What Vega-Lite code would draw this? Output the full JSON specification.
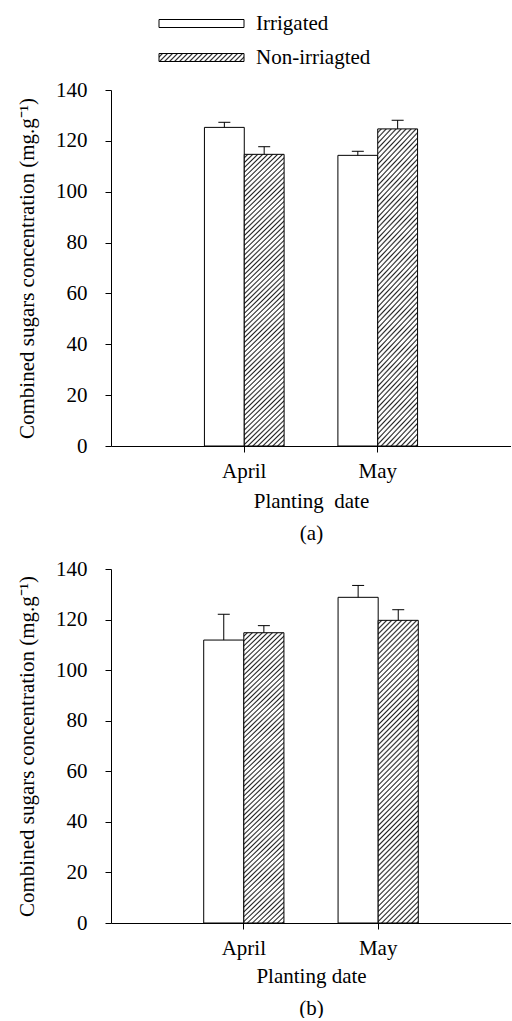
{
  "$schema": "https://vega.github.io/schema/vega-lite/v6.json",
  "padding": {"left": 16, "top": 13, "right": 0, "bottom": 0},
  "background": "white",
  "config": {
    "view": {"stroke": null},
    "font": "Liberation Serif",
    "axis": {"domainColor": "black", "tickColor": "black", "labelColor": "black", "titleColor": "black", "labelFont": "Liberation Serif", "titleFont": "Liberation Serif", "labelFontSize": 21, "titleFontSize": 21, "titleFontWeight": "normal", "grid": false, "tickSize": 6, "domainWidth": 1, "tickWidth": 1},
    "axisX": {"labelPadding": 8, "titlePadding": 9, "titleLineHeight": 32, "labelAngle": 0},
    "axisY": {"labelPadding": 18, "titlePadding": 18},
    "legend": {"labelFont": "Liberation Serif", "labelFontSize": 21, "labelColor": "black"}
  },
  "datasets": {
    "a": [
      {"date": "April", "treatment": "Irrigated", "mean": 125.3, "upper": 127.3},
      {"date": "April", "treatment": "Non-irriagted", "mean": 114.7, "upper": 117.7},
      {"date": "May", "treatment": "Irrigated", "mean": 114.3, "upper": 115.9},
      {"date": "May", "treatment": "Non-irriagted", "mean": 124.7, "upper": 128.1}
    ],
    "b": [
      {"date": "April", "treatment": "Irrigated", "mean": 111.9, "upper": 122.1},
      {"date": "April", "treatment": "Non-irriagted", "mean": 114.8, "upper": 117.6},
      {"date": "May", "treatment": "Irrigated", "mean": 128.8, "upper": 133.5},
      {"date": "May", "treatment": "Non-irriagted", "mean": 119.7, "upper": 123.9}
    ]
  },
  "spacing": 15,
  "resolve": {"scale": {"fill": "independent", "xOffset": "independent"}, "legend": {"fill": "independent"}},
  "vconcat": [
    {
      "width": 400,
      "height": 356,
      "data": {"name": "a"},
      "encoding": {
        "x": {"field": "date", "type": "nominal", "sort": ["April", "May"], "scale": {"paddingInner": 0.403, "paddingOuter": 0.7}, "title": ["Planting\u00a0 date", "(a)"]},
        "xOffset": {"field": "treatment", "type": "nominal", "sort": ["Irrigated", "Non-irriagted"], "scale": {"paddingInner": 0, "paddingOuter": 0}}
      },
      "layer": [
        {
          "mark": {"type": "bar", "stroke": "black", "strokeWidth": 1},
          "encoding": {
            "y": {"field": "mean", "type": "quantitative", "scale": {"domain": [0, 140], "nice": false}, "axis": {"values": [0, 20, 40, 60, 80, 100, 120, 140]}, "title": "Combined sugars concentration (mg.g\u207b\u00b9)"},
            "fill": {
              "field": "treatment", "type": "nominal",
              "scale": {"domain": ["Irrigated", "Non-irriagted"], "range": ["white", {"expr": "{gradient:'linear',x1:0,y1:0,x2:1.1665,y2:0.1098,stops:[{offset:0,color:'#fff'},{offset:0.02,color:'#fff'},{offset:0.036,color:'#222'},{offset:0.05,color:'#fff'},{offset:0.07,color:'#fff'},{offset:0.086,color:'#222'},{offset:0.1,color:'#fff'},{offset:0.12,color:'#fff'},{offset:0.136,color:'#222'},{offset:0.15,color:'#fff'},{offset:0.17,color:'#fff'},{offset:0.186,color:'#222'},{offset:0.2,color:'#fff'},{offset:0.22,color:'#fff'},{offset:0.236,color:'#222'},{offset:0.25,color:'#fff'},{offset:0.27,color:'#fff'},{offset:0.286,color:'#222'},{offset:0.3,color:'#fff'},{offset:0.32,color:'#fff'},{offset:0.336,color:'#222'},{offset:0.35,color:'#fff'},{offset:0.37,color:'#fff'},{offset:0.386,color:'#222'},{offset:0.4,color:'#fff'},{offset:0.42,color:'#fff'},{offset:0.436,color:'#222'},{offset:0.45,color:'#fff'},{offset:0.47,color:'#fff'},{offset:0.486,color:'#222'},{offset:0.5,color:'#fff'},{offset:0.52,color:'#fff'},{offset:0.536,color:'#222'},{offset:0.55,color:'#fff'},{offset:0.57,color:'#fff'},{offset:0.586,color:'#222'},{offset:0.6,color:'#fff'},{offset:0.62,color:'#fff'},{offset:0.636,color:'#222'},{offset:0.65,color:'#fff'},{offset:0.67,color:'#fff'},{offset:0.686,color:'#222'},{offset:0.7,color:'#fff'},{offset:0.72,color:'#fff'},{offset:0.736,color:'#222'},{offset:0.75,color:'#fff'},{offset:0.77,color:'#fff'},{offset:0.786,color:'#222'},{offset:0.8,color:'#fff'},{offset:0.82,color:'#fff'},{offset:0.836,color:'#222'},{offset:0.85,color:'#fff'},{offset:0.87,color:'#fff'},{offset:0.886,color:'#222'},{offset:0.9,color:'#fff'},{offset:0.92,color:'#fff'},{offset:0.936,color:'#222'},{offset:0.95,color:'#fff'},{offset:0.97,color:'#fff'},{offset:0.986,color:'#222'},{offset:1,color:'#fff'}]}"}]},
              "condition": {"test": "datum.treatment === 'Non-irriagted'", "value": {"gradient": "linear", "x1": 0, "y1": 0, "x2": 0.1747, "y2": 1.31, "stops": [
{"offset":0,"color":"#fff"},{"offset":0.005,"color":"#fff"},{"offset":0.009,"color":"#222"},{"offset":0.0125,"color":"#fff"},{"offset":0.0175,"color":"#fff"},{"offset":0.0215,"color":"#222"},{"offset":0.025,"color":"#fff"},{"offset":0.03,"color":"#fff"},{"offset":0.034,"color":"#222"},{"offset":0.0375,"color":"#fff"},{"offset":0.0425,"color":"#fff"},{"offset":0.0465,"color":"#222"},
{"offset":0.05,"color":"#fff"},{"offset":0.055,"color":"#fff"},{"offset":0.059,"color":"#222"},{"offset":0.0625,"color":"#fff"},{"offset":0.0675,"color":"#fff"},{"offset":0.0715,"color":"#222"},{"offset":0.075,"color":"#fff"},{"offset":0.08,"color":"#fff"},{"offset":0.084,"color":"#222"},{"offset":0.0875,"color":"#fff"},{"offset":0.0925,"color":"#fff"},{"offset":0.0965,"color":"#222"},
{"offset":0.1,"color":"#fff"},{"offset":0.105,"color":"#fff"},{"offset":0.109,"color":"#222"},{"offset":0.1125,"color":"#fff"},{"offset":0.1175,"color":"#fff"},{"offset":0.1215,"color":"#222"},{"offset":0.125,"color":"#fff"},{"offset":0.13,"color":"#fff"},{"offset":0.134,"color":"#222"},{"offset":0.1375,"color":"#fff"},{"offset":0.1425,"color":"#fff"},{"offset":0.1465,"color":"#222"},
{"offset":0.15,"color":"#fff"},{"offset":0.155,"color":"#fff"},{"offset":0.159,"color":"#222"},{"offset":0.1625,"color":"#fff"},{"offset":0.1675,"color":"#fff"},{"offset":0.1715,"color":"#222"},{"offset":0.175,"color":"#fff"},{"offset":0.18,"color":"#fff"},{"offset":0.184,"color":"#222"},{"offset":0.1875,"color":"#fff"},{"offset":0.1925,"color":"#fff"},{"offset":0.1965,"color":"#222"},
{"offset":0.2,"color":"#fff"},{"offset":0.205,"color":"#fff"},{"offset":0.209,"color":"#222"},{"offset":0.2125,"color":"#fff"},{"offset":0.2175,"color":"#fff"},{"offset":0.2215,"color":"#222"},{"offset":0.225,"color":"#fff"},{"offset":0.23,"color":"#fff"},{"offset":0.234,"color":"#222"},{"offset":0.2375,"color":"#fff"},{"offset":0.2425,"color":"#fff"},{"offset":0.2465,"color":"#222"},
{"offset":0.25,"color":"#fff"},{"offset":0.255,"color":"#fff"},{"offset":0.259,"color":"#222"},{"offset":0.2625,"color":"#fff"},{"offset":0.2675,"color":"#fff"},{"offset":0.2715,"color":"#222"},{"offset":0.275,"color":"#fff"},{"offset":0.28,"color":"#fff"},{"offset":0.284,"color":"#222"},{"offset":0.2875,"color":"#fff"},{"offset":0.2925,"color":"#fff"},{"offset":0.2965,"color":"#222"},
{"offset":0.3,"color":"#fff"},{"offset":0.305,"color":"#fff"},{"offset":0.309,"color":"#222"},{"offset":0.3125,"color":"#fff"},{"offset":0.3175,"color":"#fff"},{"offset":0.3215,"color":"#222"},{"offset":0.325,"color":"#fff"},{"offset":0.33,"color":"#fff"},{"offset":0.334,"color":"#222"},{"offset":0.3375,"color":"#fff"},{"offset":0.3425,"color":"#fff"},{"offset":0.3465,"color":"#222"},
{"offset":0.35,"color":"#fff"},{"offset":0.355,"color":"#fff"},{"offset":0.359,"color":"#222"},{"offset":0.3625,"color":"#fff"},{"offset":0.3675,"color":"#fff"},{"offset":0.3715,"color":"#222"},{"offset":0.375,"color":"#fff"},{"offset":0.38,"color":"#fff"},{"offset":0.384,"color":"#222"},{"offset":0.3875,"color":"#fff"},{"offset":0.3925,"color":"#fff"},{"offset":0.3965,"color":"#222"},
{"offset":0.4,"color":"#fff"},{"offset":0.405,"color":"#fff"},{"offset":0.409,"color":"#222"},{"offset":0.4125,"color":"#fff"},{"offset":0.4175,"color":"#fff"},{"offset":0.4215,"color":"#222"},{"offset":0.425,"color":"#fff"},{"offset":0.43,"color":"#fff"},{"offset":0.434,"color":"#222"},{"offset":0.4375,"color":"#fff"},{"offset":0.4425,"color":"#fff"},{"offset":0.4465,"color":"#222"},
{"offset":0.45,"color":"#fff"},{"offset":0.455,"color":"#fff"},{"offset":0.459,"color":"#222"},{"offset":0.4625,"color":"#fff"},{"offset":0.4675,"color":"#fff"},{"offset":0.4715,"color":"#222"},{"offset":0.475,"color":"#fff"},{"offset":0.48,"color":"#fff"},{"offset":0.484,"color":"#222"},{"offset":0.4875,"color":"#fff"},{"offset":0.4925,"color":"#fff"},{"offset":0.4965,"color":"#222"},
{"offset":0.5,"color":"#fff"},{"offset":0.505,"color":"#fff"},{"offset":0.509,"color":"#222"},{"offset":0.5125,"color":"#fff"},{"offset":0.5175,"color":"#fff"},{"offset":0.5215,"color":"#222"},{"offset":0.525,"color":"#fff"},{"offset":0.53,"color":"#fff"},{"offset":0.534,"color":"#222"},{"offset":0.5375,"color":"#fff"},{"offset":0.5425,"color":"#fff"},{"offset":0.5465,"color":"#222"},
{"offset":0.55,"color":"#fff"},{"offset":0.555,"color":"#fff"},{"offset":0.559,"color":"#222"},{"offset":0.5625,"color":"#fff"},{"offset":0.5675,"color":"#fff"},{"offset":0.5715,"color":"#222"},{"offset":0.575,"color":"#fff"},{"offset":0.58,"color":"#fff"},{"offset":0.584,"color":"#222"},{"offset":0.5875,"color":"#fff"},{"offset":0.5925,"color":"#fff"},{"offset":0.5965,"color":"#222"},
{"offset":0.6,"color":"#fff"},{"offset":0.605,"color":"#fff"},{"offset":0.609,"color":"#222"},{"offset":0.6125,"color":"#fff"},{"offset":0.6175,"color":"#fff"},{"offset":0.6215,"color":"#222"},{"offset":0.625,"color":"#fff"},{"offset":0.63,"color":"#fff"},{"offset":0.634,"color":"#222"},{"offset":0.6375,"color":"#fff"},{"offset":0.6425,"color":"#fff"},{"offset":0.6465,"color":"#222"},
{"offset":0.65,"color":"#fff"},{"offset":0.655,"color":"#fff"},{"offset":0.659,"color":"#222"},{"offset":0.6625,"color":"#fff"},{"offset":0.6675,"color":"#fff"},{"offset":0.6715,"color":"#222"},{"offset":0.675,"color":"#fff"},{"offset":0.68,"color":"#fff"},{"offset":0.684,"color":"#222"},{"offset":0.6875,"color":"#fff"},{"offset":0.6925,"color":"#fff"},{"offset":0.6965,"color":"#222"},
{"offset":0.7,"color":"#fff"},{"offset":0.705,"color":"#fff"},{"offset":0.709,"color":"#222"},{"offset":0.7125,"color":"#fff"},{"offset":0.7175,"color":"#fff"},{"offset":0.7215,"color":"#222"},{"offset":0.725,"color":"#fff"},{"offset":0.73,"color":"#fff"},{"offset":0.734,"color":"#222"},{"offset":0.7375,"color":"#fff"},{"offset":0.7425,"color":"#fff"},{"offset":0.7465,"color":"#222"},
{"offset":0.75,"color":"#fff"},{"offset":0.755,"color":"#fff"},{"offset":0.759,"color":"#222"},{"offset":0.7625,"color":"#fff"},{"offset":0.7675,"color":"#fff"},{"offset":0.7715,"color":"#222"},{"offset":0.775,"color":"#fff"},{"offset":0.78,"color":"#fff"},{"offset":0.784,"color":"#222"},{"offset":0.7875,"color":"#fff"},{"offset":0.7925,"color":"#fff"},{"offset":0.7965,"color":"#222"},
{"offset":0.8,"color":"#fff"},{"offset":0.805,"color":"#fff"},{"offset":0.809,"color":"#222"},{"offset":0.8125,"color":"#fff"},{"offset":0.8175,"color":"#fff"},{"offset":0.8215,"color":"#222"},{"offset":0.825,"color":"#fff"},{"offset":0.83,"color":"#fff"},{"offset":0.834,"color":"#222"},{"offset":0.8375,"color":"#fff"},{"offset":0.8425,"color":"#fff"},{"offset":0.8465,"color":"#222"},
{"offset":0.85,"color":"#fff"},{"offset":0.855,"color":"#fff"},{"offset":0.859,"color":"#222"},{"offset":0.8625,"color":"#fff"},{"offset":0.8675,"color":"#fff"},{"offset":0.8715,"color":"#222"},{"offset":0.875,"color":"#fff"},{"offset":0.88,"color":"#fff"},{"offset":0.884,"color":"#222"},{"offset":0.8875,"color":"#fff"},{"offset":0.8925,"color":"#fff"},{"offset":0.8965,"color":"#222"},
{"offset":0.9,"color":"#fff"}
              ]}},
              "legend": {
                "title": null, "orient": "none", "legendX": 80, "legendY": -77, "direction": "vertical",
                "symbolType": "M-4.25,-0.4H4.25V0.4H-4.25Z", "symbolSize": 400, "labelOffset": 44, "rowPadding": 12,
                "symbolStrokeColor": "black", "symbolStrokeWidth": 1, "symbolOpacity": 1
              }
            }
          }
        },
        {
          "mark": {"type": "rule", "color": "black", "strokeWidth": 1},
          "encoding": {
            "y": {"field": "mean", "type": "quantitative", "title": "Combined sugars concentration (mg.g\u207b\u00b9)"},
            "y2": {"field": "upper"}
          }
        },
        {
          "mark": {"type": "tick", "color": "black", "size": 12, "thickness": 1, "opacity": 1},
          "encoding": {
            "y": {"field": "upper", "type": "quantitative", "title": "Combined sugars concentration (mg.g\u207b\u00b9)"}
          }
        }
      ]
    },
    {
      "width": 400,
      "height": 354,
      "data": {"name": "b"},
      "encoding": {
        "x": {"field": "date", "type": "nominal", "sort": ["April", "May"], "scale": {"paddingInner": 0.403, "paddingOuter": 0.69}, "title": ["Planting date", "(b)"], "axis": {"titleLineHeight": 32, "titlePadding": 7}},
        "xOffset": {"field": "treatment", "type": "nominal", "sort": ["Irrigated", "Non-irriagted"], "scale": {"paddingInner": 0, "paddingOuter": 0}}
      },
      "resolve": {"axis": {"y": "independent"}},
      "layer": [
        {
          "mark": {"type": "bar", "stroke": "black", "strokeWidth": 1},
          "encoding": {
            "y": {"field": "mean", "type": "quantitative", "scale": {"domain": [0, 140], "nice": false}, "axis": {"values": [0, 20, 40, 60, 80, 100, 120, 140]}, "title": "Combined sugars concentration (mg.g\u207b\u00b9)"},
            "fill": {
              "field": "treatment", "type": "nominal",
              "scale": {"domain": ["Irrigated", "Non-irriagted"], "range": ["white", "#999999"]},
              "legend": null,
              "condition": {"test": "datum.treatment === 'Non-irriagted'", "value": {"gradient": "linear", "x1": 0, "y1": 0, "x2": 0.1747, "y2": 1.31, "stops": [
{"offset":0,"color":"#fff"},{"offset":0.005,"color":"#fff"},{"offset":0.009,"color":"#222"},{"offset":0.0125,"color":"#fff"},{"offset":0.0175,"color":"#fff"},{"offset":0.0215,"color":"#222"},{"offset":0.025,"color":"#fff"},{"offset":0.03,"color":"#fff"},{"offset":0.034,"color":"#222"},{"offset":0.0375,"color":"#fff"},{"offset":0.0425,"color":"#fff"},{"offset":0.0465,"color":"#222"},
{"offset":0.05,"color":"#fff"},{"offset":0.055,"color":"#fff"},{"offset":0.059,"color":"#222"},{"offset":0.0625,"color":"#fff"},{"offset":0.0675,"color":"#fff"},{"offset":0.0715,"color":"#222"},{"offset":0.075,"color":"#fff"},{"offset":0.08,"color":"#fff"},{"offset":0.084,"color":"#222"},{"offset":0.0875,"color":"#fff"},{"offset":0.0925,"color":"#fff"},{"offset":0.0965,"color":"#222"},
{"offset":0.1,"color":"#fff"},{"offset":0.105,"color":"#fff"},{"offset":0.109,"color":"#222"},{"offset":0.1125,"color":"#fff"},{"offset":0.1175,"color":"#fff"},{"offset":0.1215,"color":"#222"},{"offset":0.125,"color":"#fff"},{"offset":0.13,"color":"#fff"},{"offset":0.134,"color":"#222"},{"offset":0.1375,"color":"#fff"},{"offset":0.1425,"color":"#fff"},{"offset":0.1465,"color":"#222"},
{"offset":0.15,"color":"#fff"},{"offset":0.155,"color":"#fff"},{"offset":0.159,"color":"#222"},{"offset":0.1625,"color":"#fff"},{"offset":0.1675,"color":"#fff"},{"offset":0.1715,"color":"#222"},{"offset":0.175,"color":"#fff"},{"offset":0.18,"color":"#fff"},{"offset":0.184,"color":"#222"},{"offset":0.1875,"color":"#fff"},{"offset":0.1925,"color":"#fff"},{"offset":0.1965,"color":"#222"},
{"offset":0.2,"color":"#fff"},{"offset":0.205,"color":"#fff"},{"offset":0.209,"color":"#222"},{"offset":0.2125,"color":"#fff"},{"offset":0.2175,"color":"#fff"},{"offset":0.2215,"color":"#222"},{"offset":0.225,"color":"#fff"},{"offset":0.23,"color":"#fff"},{"offset":0.234,"color":"#222"},{"offset":0.2375,"color":"#fff"},{"offset":0.2425,"color":"#fff"},{"offset":0.2465,"color":"#222"},
{"offset":0.25,"color":"#fff"},{"offset":0.255,"color":"#fff"},{"offset":0.259,"color":"#222"},{"offset":0.2625,"color":"#fff"},{"offset":0.2675,"color":"#fff"},{"offset":0.2715,"color":"#222"},{"offset":0.275,"color":"#fff"},{"offset":0.28,"color":"#fff"},{"offset":0.284,"color":"#222"},{"offset":0.2875,"color":"#fff"},{"offset":0.2925,"color":"#fff"},{"offset":0.2965,"color":"#222"},
{"offset":0.3,"color":"#fff"},{"offset":0.305,"color":"#fff"},{"offset":0.309,"color":"#222"},{"offset":0.3125,"color":"#fff"},{"offset":0.3175,"color":"#fff"},{"offset":0.3215,"color":"#222"},{"offset":0.325,"color":"#fff"},{"offset":0.33,"color":"#fff"},{"offset":0.334,"color":"#222"},{"offset":0.3375,"color":"#fff"},{"offset":0.3425,"color":"#fff"},{"offset":0.3465,"color":"#222"},
{"offset":0.35,"color":"#fff"},{"offset":0.355,"color":"#fff"},{"offset":0.359,"color":"#222"},{"offset":0.3625,"color":"#fff"},{"offset":0.3675,"color":"#fff"},{"offset":0.3715,"color":"#222"},{"offset":0.375,"color":"#fff"},{"offset":0.38,"color":"#fff"},{"offset":0.384,"color":"#222"},{"offset":0.3875,"color":"#fff"},{"offset":0.3925,"color":"#fff"},{"offset":0.3965,"color":"#222"},
{"offset":0.4,"color":"#fff"},{"offset":0.405,"color":"#fff"},{"offset":0.409,"color":"#222"},{"offset":0.4125,"color":"#fff"},{"offset":0.4175,"color":"#fff"},{"offset":0.4215,"color":"#222"},{"offset":0.425,"color":"#fff"},{"offset":0.43,"color":"#fff"},{"offset":0.434,"color":"#222"},{"offset":0.4375,"color":"#fff"},{"offset":0.4425,"color":"#fff"},{"offset":0.4465,"color":"#222"},
{"offset":0.45,"color":"#fff"},{"offset":0.455,"color":"#fff"},{"offset":0.459,"color":"#222"},{"offset":0.4625,"color":"#fff"},{"offset":0.4675,"color":"#fff"},{"offset":0.4715,"color":"#222"},{"offset":0.475,"color":"#fff"},{"offset":0.48,"color":"#fff"},{"offset":0.484,"color":"#222"},{"offset":0.4875,"color":"#fff"},{"offset":0.4925,"color":"#fff"},{"offset":0.4965,"color":"#222"},
{"offset":0.5,"color":"#fff"},{"offset":0.505,"color":"#fff"},{"offset":0.509,"color":"#222"},{"offset":0.5125,"color":"#fff"},{"offset":0.5175,"color":"#fff"},{"offset":0.5215,"color":"#222"},{"offset":0.525,"color":"#fff"},{"offset":0.53,"color":"#fff"},{"offset":0.534,"color":"#222"},{"offset":0.5375,"color":"#fff"},{"offset":0.5425,"color":"#fff"},{"offset":0.5465,"color":"#222"},
{"offset":0.55,"color":"#fff"},{"offset":0.555,"color":"#fff"},{"offset":0.559,"color":"#222"},{"offset":0.5625,"color":"#fff"},{"offset":0.5675,"color":"#fff"},{"offset":0.5715,"color":"#222"},{"offset":0.575,"color":"#fff"},{"offset":0.58,"color":"#fff"},{"offset":0.584,"color":"#222"},{"offset":0.5875,"color":"#fff"},{"offset":0.5925,"color":"#fff"},{"offset":0.5965,"color":"#222"},
{"offset":0.6,"color":"#fff"},{"offset":0.605,"color":"#fff"},{"offset":0.609,"color":"#222"},{"offset":0.6125,"color":"#fff"},{"offset":0.6175,"color":"#fff"},{"offset":0.6215,"color":"#222"},{"offset":0.625,"color":"#fff"},{"offset":0.63,"color":"#fff"},{"offset":0.634,"color":"#222"},{"offset":0.6375,"color":"#fff"},{"offset":0.6425,"color":"#fff"},{"offset":0.6465,"color":"#222"},
{"offset":0.65,"color":"#fff"},{"offset":0.655,"color":"#fff"},{"offset":0.659,"color":"#222"},{"offset":0.6625,"color":"#fff"},{"offset":0.6675,"color":"#fff"},{"offset":0.6715,"color":"#222"},{"offset":0.675,"color":"#fff"},{"offset":0.68,"color":"#fff"},{"offset":0.684,"color":"#222"},{"offset":0.6875,"color":"#fff"},{"offset":0.6925,"color":"#fff"},{"offset":0.6965,"color":"#222"},
{"offset":0.7,"color":"#fff"},{"offset":0.705,"color":"#fff"},{"offset":0.709,"color":"#222"},{"offset":0.7125,"color":"#fff"},{"offset":0.7175,"color":"#fff"},{"offset":0.7215,"color":"#222"},{"offset":0.725,"color":"#fff"},{"offset":0.73,"color":"#fff"},{"offset":0.734,"color":"#222"},{"offset":0.7375,"color":"#fff"},{"offset":0.7425,"color":"#fff"},{"offset":0.7465,"color":"#222"},
{"offset":0.75,"color":"#fff"},{"offset":0.755,"color":"#fff"},{"offset":0.759,"color":"#222"},{"offset":0.7625,"color":"#fff"},{"offset":0.7675,"color":"#fff"},{"offset":0.7715,"color":"#222"},{"offset":0.775,"color":"#fff"},{"offset":0.78,"color":"#fff"},{"offset":0.784,"color":"#222"},{"offset":0.7875,"color":"#fff"},{"offset":0.7925,"color":"#fff"},{"offset":0.7965,"color":"#222"},
{"offset":0.8,"color":"#fff"},{"offset":0.805,"color":"#fff"},{"offset":0.809,"color":"#222"},{"offset":0.8125,"color":"#fff"},{"offset":0.8175,"color":"#fff"},{"offset":0.8215,"color":"#222"},{"offset":0.825,"color":"#fff"},{"offset":0.83,"color":"#fff"},{"offset":0.834,"color":"#222"},{"offset":0.8375,"color":"#fff"},{"offset":0.8425,"color":"#fff"},{"offset":0.8465,"color":"#222"},
{"offset":0.85,"color":"#fff"},{"offset":0.855,"color":"#fff"},{"offset":0.859,"color":"#222"},{"offset":0.8625,"color":"#fff"},{"offset":0.8675,"color":"#fff"},{"offset":0.8715,"color":"#222"},{"offset":0.875,"color":"#fff"},{"offset":0.88,"color":"#fff"},{"offset":0.884,"color":"#222"},{"offset":0.8875,"color":"#fff"},{"offset":0.8925,"color":"#fff"},{"offset":0.8965,"color":"#222"},
{"offset":0.9,"color":"#fff"}
              ]}}
            }
          }
        },
        {
          "mark": {"type": "rule", "color": "black", "strokeWidth": 1},
          "encoding": {
            "y": {"field": "mean", "type": "quantitative", "title": null, "axis": {"orient": "right", "labels": false, "ticks": false, "title": null, "domain": true}},
            "y2": {"field": "upper"}
          }
        },
        {
          "mark": {"type": "tick", "color": "black", "size": 12, "thickness": 1, "opacity": 1},
          "encoding": {
            "y": {"field": "upper", "type": "quantitative", "axis": null}
          }
        }
      ]
    }
  ]
}
